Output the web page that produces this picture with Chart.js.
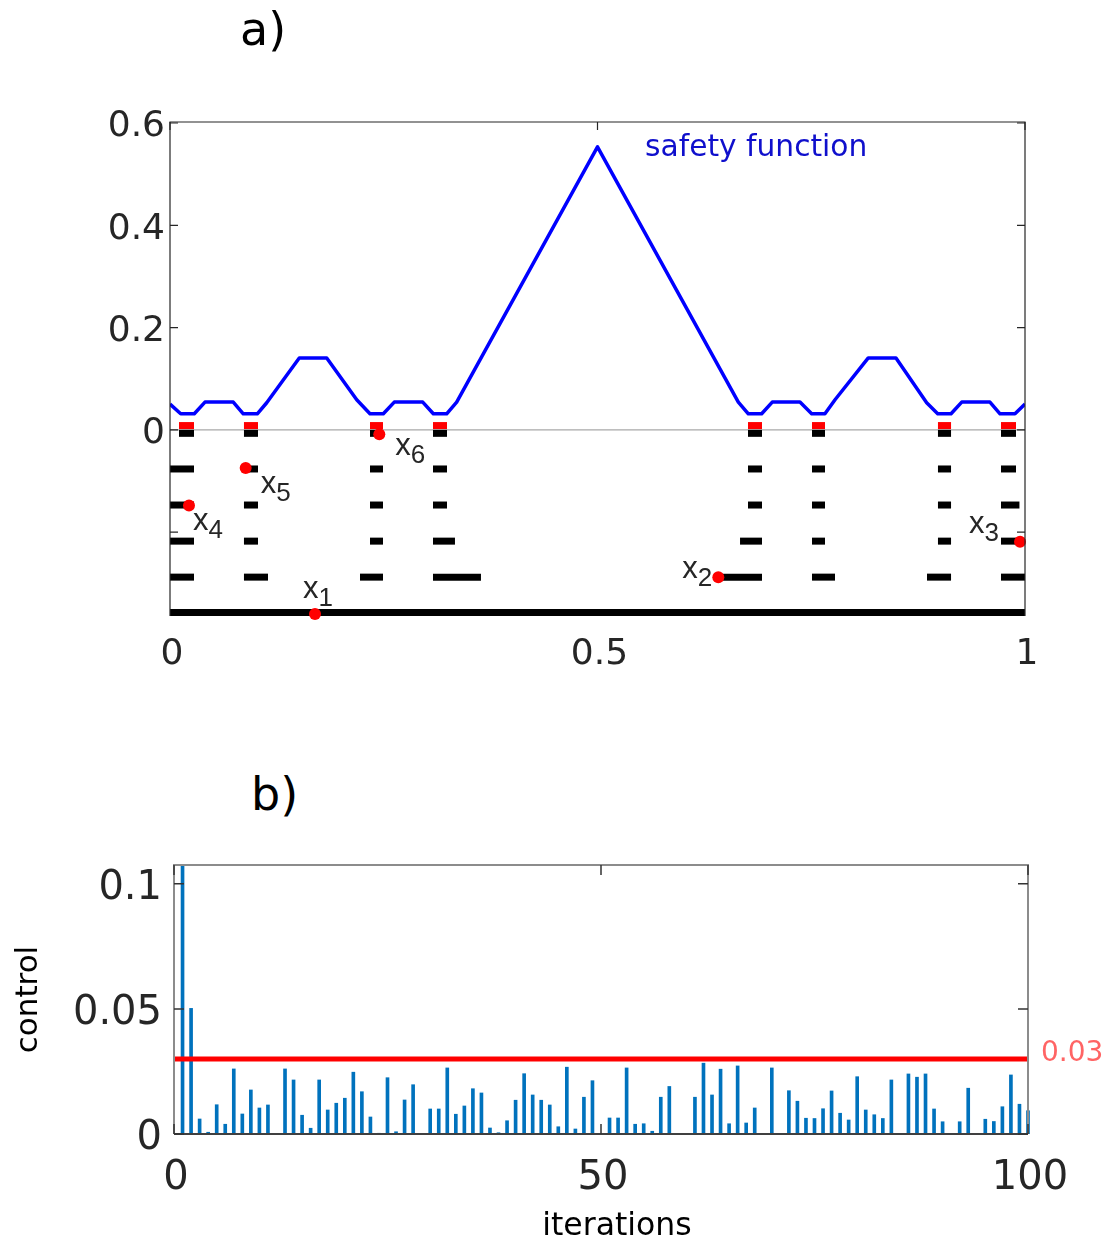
<!DOCTYPE html>
<html lang="en">
<head>
<meta charset="UTF-8">
<title>Safety function and control</title>
<script src="https://cdn.jsdelivr.net/npm/chart.js"></script>
<style>
    body {
        margin: 0;
        background: #ffffff;
        font-family: 'DejaVu Sans', sans-serif;
    }
    .page {
        position: relative;
        width: 1109px;
        height: 1243px;
        overflow: hidden;
    }
    .panel-label {
        position: absolute;
        font-size: 46px;
        line-height: 46px;
        color: #000;
    }
    #chartA { position: absolute; left: 0; top: 0; }
    #chartB { position: absolute; left: 0; top: 829px; }
</style>
</head>
<body>
<div class="page">
    <canvas id="chartA" width="1109" height="700"></canvas>
    <canvas id="chartB" width="1109" height="414"></canvas>
    <div class="panel-label" style="left:240px; top:6px;">a)</div>
    <div class="panel-label" style="left:251px; top:771px;">b)</div>
</div>
<script>
// ---------- panel a) ----------
const safetyX = [0, 0.0125, 0.0284, 0.0409, 0.074, 0.0857, 0.1021, 0.1131, 0.1512, 0.1833, 0.2184, 0.2339,
    0.2495, 0.2623, 0.2956, 0.308, 0.3236, 0.3353, 0.5, 0.6647, 0.6764, 0.692, 0.7044, 0.7368, 0.7505,
    0.766, 0.7778, 0.8167, 0.8491, 0.885, 0.8979, 0.9135, 0.926, 0.959, 0.9708, 0.9883, 1];
const safetyY = [0.0504, 0.0314, 0.0314, 0.0543, 0.0543, 0.0314, 0.0314, 0.053, 0.1406, 0.1406, 0.0588, 0.0314,
    0.0314, 0.0543, 0.0543, 0.0314, 0.0314, 0.0543, 0.5535, 0.0543, 0.0314, 0.0314, 0.0543, 0.0543, 0.0314,
    0.0314, 0.0588, 0.1406, 0.1406, 0.053, 0.0314, 0.0314, 0.0543, 0.0543, 0.0314, 0.0314, 0.0504];
const safetyLabel = 'safety function';

// intervals of each level (bottom row is the whole interval)
const row0 = [[0.0105, 0.0281], [0.0865, 0.1029], [0.2339, 0.2491], [0.3076, 0.324], [0.676, 0.6924], [0.7509, 0.7661], [0.8982, 0.9135], [0.9719, 0.9895]];
const row1 = [[0, 0.0281], [0.0865, 0.1029], [0.2339, 0.2491], [0.3076, 0.324], [0.676, 0.6924], [0.7509, 0.7661], [0.8982, 0.9135], [0.9719, 0.9895]];
const row2 = [[0, 0.0281], [0.0865, 0.1029], [0.2339, 0.2491], [0.3076, 0.324], [0.676, 0.6924], [0.7509, 0.7661], [0.8982, 0.9135], [0.9719, 0.9935]];
const row3 = [[0, 0.0281], [0.0865, 0.1029], [0.2339, 0.2491], [0.3076, 0.3333], [0.6667, 0.6924], [0.7509, 0.7661], [0.8982, 0.9135], [0.9719, 0.995]];
const row4 = [[0, 0.0281], [0.0865, 0.1146], [0.2222, 0.2491], [0.3076, 0.3637], [0.6409, 0.6924], [0.7509, 0.7778], [0.8854, 0.9135], [0.9719, 1]];
const row5 = [[0, 1]];
const rowLevels = [-0.0068, -0.0765, -0.147, -0.2176, -0.288, -0.357];
const safeSet = row0;
const safeLevel = 0.0084;

const pointsX = [0.1696, 0.6413, 0.9942, 0.0222, 0.0885, 0.2448];
const pointsY = [-0.360, -0.2883, -0.2186, -0.1481, -0.0744, -0.0084];
const pointNames = ['1', '2', '3', '4', '5', '6'];

const topXTicks = [0, 0.5, 1];
const topXLabels = ['0', '0.5', '1'];
const topYTicks = [0, 0.2, 0.4, 0.6];
const topYLabels = ['0', '0.2', '0.4', '0.6'];
const topYMarks = [-0.2, 0, 0.2, 0.4, 0.6];

// ---------- panel b) ----------
const control = [0.15, 0.0502, 0.006, 0.0007, 0.0117, 0.0039, 0.026, 0.008, 0.0176, 0.0104,
    0.0116, 0, 0.026, 0.0216, 0.0075, 0.0023, 0.0216, 0.0096, 0.0123, 0.0143,
    0.0247, 0.0169, 0.0068, 0.0003, 0.0225, 0.0009, 0.0136, 0.0197, 0, 0.01,
    0.01, 0.0264, 0.0079, 0.0112, 0.0181, 0.0164, 0.0024, 0.0005, 0.0053, 0.0135,
    0.0241, 0.0156, 0.0135, 0.0116, 0.0029, 0.0267, 0.002, 0.0147, 0.0213, 0,
    0.0064, 0.0064, 0.0264, 0.0039, 0.0041, 0.0011, 0.0147, 0.019, 0.0002, 0,
    0.0147, 0.0283, 0.0156, 0.0259, 0.0041, 0.0272, 0.0044, 0.0104, 0, 0.0264,
    0, 0.0173, 0.0131, 0.0063, 0.0062, 0.0101, 0.0172, 0.0083, 0.0056, 0.0229,
    0.0096, 0.0077, 0.0062, 0.0216, 0, 0.024, 0.0227, 0.024, 0.01, 0.0049,
    0, 0.0049, 0.0183, 0.0002, 0.0059, 0.005, 0.0109, 0.0236, 0.0119, 0.0093];
const threshold = 0.03;
const thresholdLabel = '0.03';
const xTitle = 'iterations';
const botXTicks = [0, 50, 100];
const botXLabels = ['0', '50', '100'];
const botYTicks = [0, 0.05, 0.1];
const botYLabels = ['0', '0.05', '0.1'];

Chart.defaults.font.family = "'DejaVu Sans', sans-serif";
Chart.defaults.color = '#262626';

// box, inner tick marks and optional zero line
const framePlugin = {
    id: 'frame',
    beforeDatasetsDraw(chart, args, o) {
        if (!o.zeroColor) return;
        const {ctx, chartArea: a, scales: {y}} = chart;
        const py = y.getPixelForValue(0);
        ctx.save();
        ctx.strokeStyle = o.zeroColor;
        ctx.lineWidth = o.zeroWidth;
        ctx.beginPath();
        ctx.moveTo(a.left, py);
        ctx.lineTo(a.right, py);
        ctx.stroke();
        ctx.restore();
    },
    afterDatasetsDraw(chart, args, o) {
        const {ctx, chartArea: a, scales: {x, y}} = chart;
        ctx.save();
        ctx.strokeStyle = o.color;
        ctx.lineWidth = o.width;
        ctx.beginPath();
        ctx.moveTo(a.left, a.bottom);
        ctx.lineTo(a.left, a.top);
        ctx.lineTo(a.right, a.top);
        ctx.lineTo(a.right, a.bottom);
        ctx.stroke();
        if (o.baseColor) {
            ctx.strokeStyle = o.baseColor;
            ctx.beginPath();
            ctx.moveTo(a.left, a.bottom);
            ctx.lineTo(a.right, a.bottom);
            ctx.stroke();
        }
        ctx.strokeStyle = o.tickColor;
        ctx.lineWidth = o.tickWidth;
        ctx.beginPath();
        o.xTicks.forEach(v => {
            const px = x.getPixelForValue(v);
            ctx.moveTo(px, a.top);
            ctx.lineTo(px, a.top + o.tickLen);
            if (o.bottomTicks) {
                ctx.moveTo(px, a.bottom);
                ctx.lineTo(px, a.bottom - o.tickLen);
            }
        });
        o.yTicks.forEach(v => {
            const py = y.getPixelForValue(v);
            ctx.moveTo(a.left, py);
            ctx.lineTo(a.left + o.tickLen, py);
            ctx.moveTo(a.right, py);
            ctx.lineTo(a.right - o.tickLen, py);
        });
        ctx.stroke();
        ctx.restore();
    }
};

// texts inside panel a)
const labelPlace = [[-12, -16], [-36, 1], [-51, -9], [4, 24], [15, 25], [16, 21]];
const notesA = {
    id: 'notesA',
    afterDatasetsDraw(chart) {
        const {ctx, scales: {x, y}} = chart;
        ctx.save();
        ctx.fillStyle = '#0f0fcc';
        ctx.font = '29.7px "DejaVu Sans"';
        ctx.textBaseline = 'middle';
        ctx.textAlign = 'left';
        ctx.fillText(safetyLabel, x.getPixelForValue(0.5556), y.getPixelForValue(0.551));
        ctx.fillStyle = '#262626';
        ctx.textBaseline = 'alphabetic';
        pointNames.forEach((n, i) => {
            const px = x.getPixelForValue(pointsX[i]) + labelPlace[i][0];
            const py = y.getPixelForValue(pointsY[i]) + labelPlace[i][1];
            ctx.font = '31px "Liberation Sans"';
            ctx.fillText('x', px, py);
            const w = ctx.measureText('x').width;
            ctx.font = '26px "Liberation Sans"';
            ctx.fillText(n, px + w, py + 8);
        });
        ctx.restore();
    }
};

// threshold value and x title of panel b)
const notesB = {
    id: 'notesB',
    afterDatasetsDraw(chart) {
        const {ctx, chartArea: a, scales: {y}} = chart;
        ctx.save();
        ctx.fillStyle = '#ff6464';
        ctx.font = '28px "DejaVu Sans"';
        ctx.textBaseline = 'alphabetic';
        ctx.textAlign = 'left';
        ctx.fillText(thresholdLabel, a.right + 13, y.getPixelForValue(threshold) + 2);
        ctx.fillStyle = '#000';
        ctx.font = '31.5px "DejaVu Sans"';
        ctx.textAlign = 'center';
        ctx.fillText(xTitle, (a.left + a.right) / 2 + 16, a.bottom + 101);
        ctx.restore();
    }
};

function segment(s, level, color) {
    return {
        data: [{x: s[0], y: level}, {x: s[1], y: level}],
        borderColor: color,
        borderWidth: 7,
        borderCapStyle: 'butt',
        pointRadius: 0
    };
}

const datasetsA = [];
datasetsA.push({
    data: pointsX.map((v, i) => ({x: v, y: pointsY[i]})),
    showLine: false,
    pointRadius: 6,
    pointBorderWidth: 0,
    pointBackgroundColor: '#ff0000',
    clip: false
});
datasetsA.push({
    data: safetyX.map((v, i) => ({x: v, y: safetyY[i]})),
    borderColor: '#0000ff',
    borderWidth: 3.5,
    pointRadius: 0,
    borderJoinStyle: 'round'
});
safeSet.forEach(s => datasetsA.push(segment(s, safeLevel, '#ff0000')));
[row0, row1, row2, row3, row4, row5].forEach((row, k) => {
    row.forEach(s => datasetsA.push(segment(s, rowLevels[k], '#000000')));
});

new Chart(document.getElementById('chartA'), {
    type: 'line',
    data: {datasets: datasetsA},
    options: {
        responsive: false,
        animation: false,
        devicePixelRatio: 1,
        layout: {padding: {left: 100, right: 84, top: 122, bottom: 24}},
        plugins: {
            legend: {display: false},
            tooltip: {enabled: false},
            frame: {
                color: '#262626', width: 1.2, tickColor: '#262626', tickWidth: 1.2, tickLen: 8,
                xTicks: topXTicks, yTicks: topYMarks, bottomTicks: false,
                zeroColor: '#a8a8a8', zeroWidth: 1.2
            }
        },
        scales: {
            x: {
                type: 'linear', min: 0, max: 1,
                grid: {display: false, drawTicks: false}, border: {display: false},
                afterBuildTicks: s => { s.ticks = topXTicks.map(v => ({value: v})); },
                afterFit: s => { s.height = 60; },
                ticks: {
                    font: {size: 36}, padding: 17, maxRotation: 0, labelOffset: 2,
                    callback: (v, i) => topXLabels[i]
                }
            },
            y: {
                type: 'linear', min: -0.364, max: 0.602,
                grid: {display: false, drawTicks: false}, border: {display: false},
                afterBuildTicks: s => { s.ticks = topYTicks.map(v => ({value: v})); },
                afterFit: s => { s.width = 70; },
                ticks: {
                    font: {size: 36}, padding: 5, labelOffset: 4,
                    callback: (v, i) => topYLabels[i]
                }
            }
        }
    },
    plugins: [framePlugin, notesA]
});

new Chart(document.getElementById('chartB'), {
    type: 'bar',
    data: {
        datasets: [
            {
                type: 'line',
                data: [{x: 0, y: threshold}, {x: 100, y: threshold}],
                borderColor: '#ff0000',
                borderWidth: 5,
                pointRadius: 0
            },
            {
                data: control.map((v, i) => ({x: i + 1, y: v})),
                backgroundColor: '#0072bd',
                barThickness: 3,
                grouped: false,
                clip: {left: 4, right: 4, top: 0, bottom: 0}
            }
        ]
    },
    options: {
        responsive: false,
        animation: false,
        devicePixelRatio: 1,
        layout: {padding: {left: 6, right: 81, top: 0, bottom: 0}},
        plugins: {
            legend: {display: false},
            tooltip: {enabled: false},
            frame: {
                color: '#8c8c8c', width: 2, baseColor: '#404040', tickColor: '#333333', tickWidth: 1.5, tickLen: 10,
                xTicks: botXTicks, yTicks: botYTicks, bottomTicks: true
            }
        },
        scales: {
            x: {
                type: 'linear', min: 0, max: 100, offset: false,
                grid: {display: false, drawTicks: false}, border: {display: false},
                afterBuildTicks: s => { s.ticks = botXTicks.map(v => ({value: v})); },
                afterFit: s => { s.height = 109; },
                ticks: {
                    font: {size: 40}, padding: 21, maxRotation: 0, labelOffset: 2,
                    callback: (v, i) => botXLabels[i]
                }
            },
            y: {
                type: 'linear', min: 0, max: 0.1075,
                grid: {display: false, drawTicks: false}, border: {display: false},
                afterBuildTicks: s => { s.ticks = botYTicks.map(v => ({value: v})); },
                afterFit: s => { s.width = 168; },
                title: {display: true, text: 'control', font: {size: 31}, color: '#000', padding: {top: 4, bottom: 4}},
                ticks: {
                    font: {size: 40}, padding: 12, labelOffset: 5,
                    callback: (v, i) => botYLabels[i]
                }
            }
        }
    },
    plugins: [framePlugin, notesB]
});
</script>
</body>
</html>
